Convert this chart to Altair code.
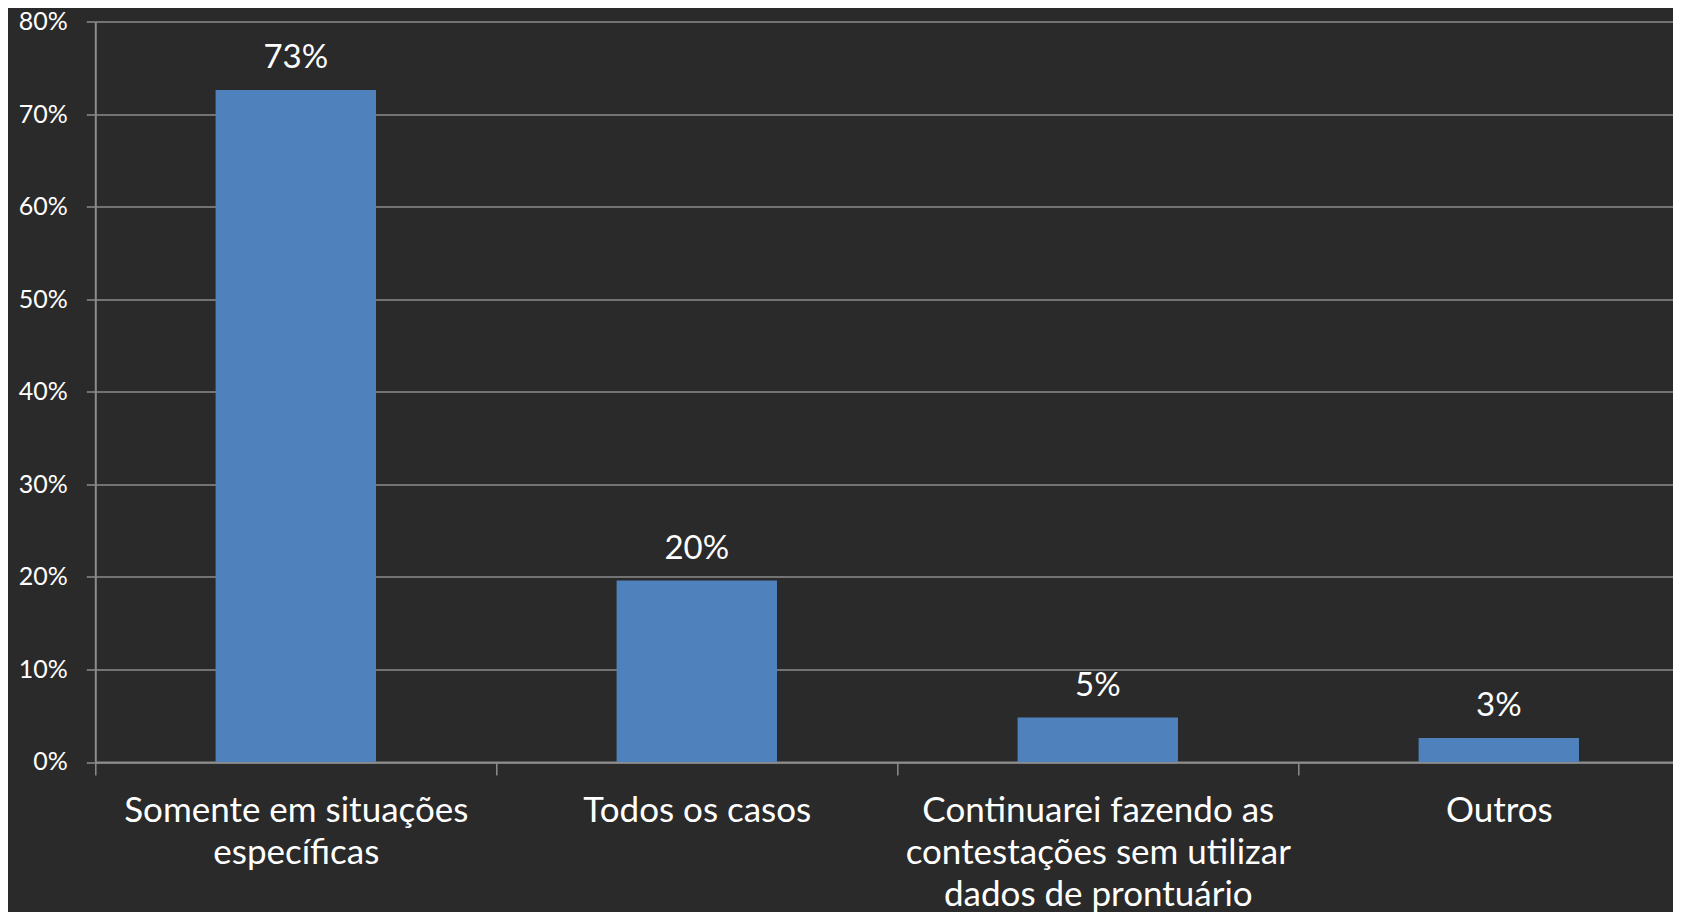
import altair as alt
import pandas as pd

# ---- data ----
categories = [
    "Somente em situações\nespecíficas",
    "Todos os casos",
    "Continuarei fazendo as\ncontestações sem utilizar\ndados de prontuário",
    "Outros",
]
values = [0.726, 0.196, 0.048, 0.026]
y_ticks = [0.0, 0.1, 0.2, 0.3, 0.4, 0.5, 0.6, 0.7, 0.8]
title_text = "situações estritamente necessárias?"

df = pd.DataFrame({"cat": categories, "val": values})

FONT = "Lato"
TEXT = "#ffffff"
GRID = "#8c8c8c"
BG = "#2a2a2a"
BAR = "#4f81bd"

x = alt.X(
    "cat:N",
    sort=categories,
    scale=alt.Scale(range=[0, 1604], paddingInner=0, paddingOuter=0),
    axis=alt.Axis(
        title=None,
        labelAngle=0,
        labelFont=FONT,
        labelFontSize=35,
        labelColor=TEXT,
        labelExpr="split(datum.label, '\\n')",
        labelLineHeight=42,
        labelBaseline="alphabetic",
        labelPadding=47,
        labelLimit=0,
        tickSize=13,
        tickColor=GRID,
        tickWidth=1.5,
        tickBand="extent",
        domainColor=GRID,
        domainWidth=2,
        grid=False,
    ),
)

y = alt.Y(
    "val:Q",
    scale=alt.Scale(domain=[0, 0.8], nice=False, zero=True),
    axis=alt.Axis(
        title=None,
        format=".0%",
        values=y_ticks,
        labelFont=FONT,
        labelFontSize=25,
        labelColor=TEXT,
        labelPadding=19,
        tickSize=9,
        tickColor=GRID,
        tickWidth=1.5,
        domainColor=GRID,
        domainWidth=2,
        gridColor=GRID,
        gridWidth=1.5,
    ),
)

bars = alt.Chart(df).mark_bar(width=alt.RelativeBandSize(0.4), color=BAR).encode(x=x, y=y)
labels = alt.Chart(df).mark_text(
    dy=-22, baseline="alphabetic", font=FONT, fontSize=33, color=TEXT
).encode(x=x, y=y, text=alt.Text("val:Q", format=".0%"))

chart = (
    alt.layer(bars, labels)
    .properties(
        width=1578,
        height=740.5,
        padding={"left": 87.3, "top": 13.5, "right": 0, "bottom": 150},
        autosize=alt.AutoSizeParams(type="none"),
        background=BG,
        title=alt.TitleParams(
            title_text,
            font=FONT,
            fontSize=58,
            fontWeight="normal",
            color=TEXT,
            anchor="middle",
            baseline="alphabetic",
            dx=-26,
            dy=1,
            offset=0,
        ),
    )
    .configure_view(stroke=None)
)

chart.save("out.html", embed_options={"renderer": "svg", "actions": False})
